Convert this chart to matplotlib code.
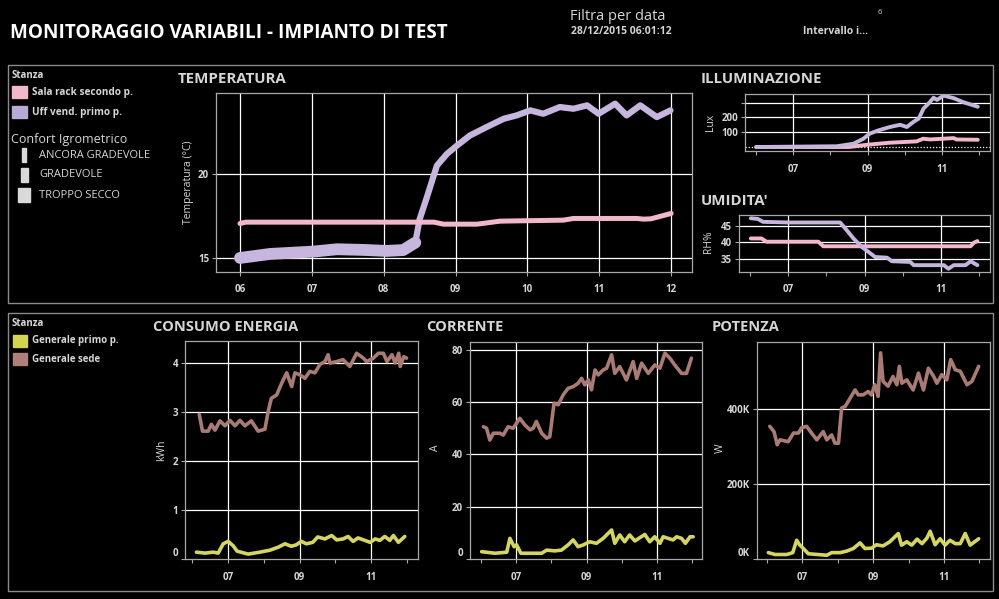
import numpy as np
import matplotlib.pyplot as plt
from matplotlib.patches import Rectangle
from matplotlib.ticker import FixedLocator, FuncFormatter

plt.rcParams['font.family'] = ['Open Sans', 'DejaVu Sans']

# ---- data (hours of the day) ----
temp_uff_h = [6.0, 6.42, 7.02, 7.35, 7.72, 8.04, 8.27, 8.44, 8.5, 8.6, 8.74, 8.88, 9.02, 9.2, 9.43,
              9.67, 9.85, 10.04, 10.22, 10.45, 10.64, 10.83, 10.99, 11.22, 11.38, 11.57, 11.8, 11.99]
temp_uff = [14.98, 15.22, 15.36, 15.5, 15.46, 15.4, 15.45, 15.9, 17.3, 18.6, 20.5, 21.2, 21.7, 22.3, 22.8,
            23.3, 23.5, 23.8, 23.6, 24.0, 23.9, 24.1, 23.6, 24.2, 23.5, 24.1, 23.4, 23.8]
temp_sala_h = [6.0, 6.08, 8.7, 8.83, 9.3, 9.62, 10.5, 10.64, 11.52, 11.62, 11.72, 12.0]
temp_sala = [17.04, 17.12, 17.12, 17.0, 17.0, 17.18, 17.24, 17.34, 17.34, 17.3, 17.32, 17.64]

lux_uff_h = [6.0, 8.17, 8.62, 8.89, 9.06, 9.29, 9.6, 9.88, 10.06, 10.24, 10.38, 10.51, 10.65,
             10.78, 10.87, 11.05, 11.32, 11.59, 11.97]
lux_uff = [0, 5, 22, 56, 90, 112, 135, 150, 135, 170, 192, 260, 295, 333, 318, 347, 330, 302, 272]
lux_sala_h = [6.0, 8.5, 8.98, 9.6, 10.32, 10.5, 10.69, 11.32, 11.4, 11.97]
lux_sala = [0, 0, 15, 29, 38, 56, 51, 60, 51, 49]

rh_uff_h = [6.02, 6.2, 6.34, 7.04, 8.36, 8.53, 8.71, 8.93, 9.1, 9.28, 9.59, 9.72, 10.2, 10.29,
            11.08, 11.2, 11.34, 11.65, 11.78, 11.96]
rh_uff = [47.4, 47.2, 46.3, 46.1, 46.1, 43.8, 41.2, 38.6, 37.1, 35.5, 35.3, 34.2, 34.0, 33.0,
          33.0, 31.9, 33.0, 33.0, 34.2, 33.0]
rh_sala_h = [6.02, 6.3, 6.43, 7.79, 7.92, 11.78, 11.87, 11.96]
rh_sala = [41.2, 41.2, 40.2, 40.2, 38.8, 38.8, 39.9, 40.4]

kwh_sede_h = [6.19, 6.28, 6.44, 6.53, 6.63, 6.77, 6.91, 7.05, 7.19, 7.33, 7.47, 7.65, 7.84, 8.03,
              8.12, 8.21, 8.36, 8.5, 8.64, 8.78, 8.87, 9.01, 9.15, 9.29, 9.43, 9.57, 9.71, 9.8,
              9.85, 10.04, 10.22, 10.41, 10.6, 10.79, 10.88, 11.07, 11.21, 11.35, 11.45, 11.59,
              11.68, 11.78, 11.82, 11.92, 12.0]
kwh_sede = [2.95, 2.61, 2.61, 2.75, 2.63, 2.82, 2.72, 2.83, 2.72, 2.83, 2.72, 2.82, 2.61, 2.65,
            3.01, 3.28, 3.35, 3.59, 3.80, 3.52, 3.80, 3.76, 3.69, 3.83, 3.80, 3.97, 4.03, 4.17,
            4.0, 4.03, 4.07, 3.93, 4.2, 4.1, 4.03, 4.1, 4.2, 4.2, 4.03, 4.17,
            4.0, 4.2, 3.93, 4.13, 4.1]
kwh_primo_h = [6.11, 6.35, 6.58, 6.72, 6.86, 7.0, 7.14, 7.25, 7.56, 7.89, 8.17, 8.4, 8.59, 8.77,
               8.91, 9.05, 9.19, 9.37, 9.51, 9.71, 9.9, 10.04, 10.22, 10.36, 10.5, 10.64, 10.83,
               10.98, 11.12, 11.25, 11.39, 11.53, 11.63, 11.77, 11.95]
kwh_primo = [0.14, 0.12, 0.14, 0.12, 0.31, 0.36, 0.27, 0.16, 0.10, 0.14, 0.18, 0.24, 0.31, 0.26,
             0.29, 0.36, 0.31, 0.34, 0.45, 0.41, 0.48, 0.39, 0.41, 0.46, 0.36, 0.43, 0.38,
             0.34, 0.41, 0.38, 0.46, 0.38, 0.48, 0.34, 0.46]

amp_sede_h = [6.08, 6.17, 6.26, 6.36, 6.55, 6.64, 6.78, 6.92, 7.11, 7.25, 7.4, 7.49, 7.58, 7.73,
              7.87, 7.96, 8.08, 8.2, 8.34, 8.48, 8.62, 8.76, 8.86, 8.95, 9.05, 9.14, 9.24, 9.33,
              9.47, 9.57, 9.71, 9.8, 9.94, 10.13, 10.32, 10.42, 10.56, 10.75, 10.93, 11.08,
              11.22, 11.36, 11.5, 11.69, 11.83, 11.97]
amp_sede = [50.6, 50.0, 45.5, 48.1, 48.1, 47.4, 50.6, 50.0, 53.8, 51.3, 49.4, 50.0, 52.6, 48.1,
            46.2, 46.8, 59.6, 59.0, 62.8, 65.3, 65.9, 67.2, 69.1, 66.6, 68.5, 64.7, 72.3, 70.4,
            72.3, 73.0, 78.1, 71.0, 73.6, 68.5, 75.5, 69.1, 74.9, 71.0, 74.2, 73.0,
            78.7, 76.8, 74.2, 71.0, 71.0, 76.8]
amp_primo_h = [6.03, 6.41, 6.74, 6.83, 6.95, 7.02, 7.14, 7.73, 7.87, 8.1, 8.29, 8.48, 8.62, 8.76,
               8.91, 9.09, 9.28, 9.47, 9.71, 9.8, 9.94, 10.08, 10.22, 10.37, 10.65, 10.79, 10.93,
               11.08, 11.17, 11.31, 11.45, 11.55, 11.69, 11.8, 11.93, 12.02]
amp_primo = [2.8, 2.2, 2.6, 7.9, 4.7, 5.4, 2.2, 2.2, 3.4, 3.1, 3.4, 5.4, 7.3, 4.7,
             5.4, 6.6, 6.0, 7.9, 11.1, 6.0, 9.2, 6.6, 9.2, 6.9, 9.4, 6.6, 8.5,
             6.0, 8.5, 7.9, 7.3, 8.5, 7.9, 6.0, 8.5, 8.5]

# potenza in kW (thousands of W)
pot_sede_h = [6.08, 6.2, 6.29, 6.37, 6.6, 6.75, 6.89, 6.98, 7.12, 7.26, 7.41, 7.59, 7.69, 7.83,
              7.92, 8.02, 8.11, 8.21, 8.35, 8.49, 8.58, 8.72, 8.86, 8.95, 9.05, 9.14, 9.21, 9.28,
              9.42, 9.56, 9.67, 9.74, 9.81, 9.95, 10.13, 10.28, 10.42, 10.56, 10.71, 10.8, 10.94,
              11.08, 11.19, 11.32, 11.46, 11.65, 11.79, 11.98]
pot_sede = [354, 340, 305, 318, 313, 336, 336, 350, 354, 336, 318, 340, 318, 331,
            309, 309, 403, 407, 429, 451, 438, 438, 447, 438, 465, 434, 550, 474,
            461, 487, 465, 514, 469, 478, 451, 496, 451, 509, 487, 469, 492,
            478, 532, 505, 501, 465, 474, 514]
pot_primo_h = [6.04, 6.23, 6.56, 6.73, 6.84, 6.93, 7.03, 7.17, 7.69, 7.83, 8.07, 8.25, 8.44, 8.63,
               8.77, 8.96, 9.09, 9.28, 9.47, 9.71, 9.8, 9.95, 10.09, 10.24, 10.38, 10.52, 10.61,
               10.75, 10.89, 11.03, 11.17, 11.32, 11.46, 11.6, 11.74, 11.98]
pot_primo = [17, 12, 12, 17, 50, 37, 28, 14, 10, 17, 17, 21, 28, 43,
             28, 29, 38, 35, 46, 68, 37, 46, 37, 53, 41, 56, 74,
             38, 54, 37, 50, 41, 41, 68, 37, 54]

stanza_top = ['Sala rack secondo p.', 'Uff vend. primo p.']
confort = ['ANCORA GRADEVOLE', 'GRADEVOLE', 'TROPPO SECCO']
stanza_bottom = ['Generale primo p.', 'Generale sede']

PINK = '#f3b7cd'
LAV = '#c6b6de'
BROWN = '#a97b75'
YELLOW = '#d5d562'
TXT = '#d6d6d6'
SPINE = '#a8a8a8'

W, H = 999, 599
fig = plt.figure(figsize=(W / 100, H / 100), dpi=100, facecolor='black')


def fx(x):
    return x / W


def fy(y):
    return 1 - y / H


def ax_px(x0, y0, x1, y1):
    return fig.add_axes([fx(x0), fy(y1), (x1 - x0) / W, (y1 - y0) / H])


def style(ax, xlim, ylim, xt, xl, yt, yl, minor=None):
    ax.set_facecolor('black')
    for s in ax.spines.values():
        s.set_color(SPINE)
        s.set_linewidth(0.9)
    ax.set_xlim(*xlim)
    ax.set_ylim(*ylim)
    ax.xaxis.set_major_locator(FixedLocator(xt))
    ax.set_xticklabels(xl)
    ax.yaxis.set_major_locator(FixedLocator(yt))
    ax.set_yticklabels(yl)
    if minor is not None:
        ax.xaxis.set_minor_locator(FixedLocator(minor))
    ax.grid(True, color='white', linewidth=0.9)
    ax.set_axisbelow(True)
    ax.tick_params(which='both', colors=SPINE, labelcolor=TXT, labelsize=7, length=3, width=0.8)
    ax.tick_params(axis='x', pad=6)
    ax.tick_params(axis='y', pad=2)
    for lab in ax.get_xticklabels() + ax.get_yticklabels():
        lab.set_fontweight('bold')


def ftext(x, y, s, **kw):
    kw.setdefault('color', TXT)
    kw.setdefault('va', 'center')
    fig.text(fx(x), fy(y), s, **kw)


# panel frames
for (x0, y0, x1, y1) in [(8, 65, 993, 303), (8, 313, 993, 591)]:
    fig.patches.append(Rectangle((fx(x0), fy(y1)), (x1 - x0) / W, (y1 - y0) / H,
                                 transform=fig.transFigure, fill=False,
                                 edgecolor='#8a8a8a', linewidth=1))

# header
ftext(10, 33, 'MONITORAGGIO VARIABILI - IMPIANTO DI TEST', color='white',
      fontsize=13.6, fontweight='bold')
ftext(570, 17, 'Filtra per data', fontsize=10.5)
ftext(571, 32, '28/12/2015 06:01:12', fontsize=7.5, fontweight='bold')
ftext(803, 32, 'Intervallo i...', fontsize=7.5, fontweight='bold')
ftext(878, 13, '6', fontsize=5.5)

# top legend
ftext(12, 75, 'Stanza', fontsize=7, fontweight='bold')
for i, (lab, col) in enumerate(zip(stanza_top, [PINK, '#b9a9d5'])):
    yc = 92 + i * 20
    fig.patches.append(Rectangle((fx(12), fy(yc + 6)), 15 / W, 12 / H,
                                 transform=fig.transFigure, color=col))
    ftext(32, yc, lab, fontsize=7.2, fontweight='bold')
ftext(11, 139, 'Confort Igrometrico', fontsize=9)
for i, (lab, bw) in enumerate(zip(confort, [4, 7, 12])):
    yc = 155 + i * 20
    fig.patches.append(Rectangle((fx(24 - bw / 2), fy(yc + 7)), bw / W, 14 / H,
                                 transform=fig.transFigure, color='#d9d9d9'))
    ftext(39, yc, lab, fontsize=8)

# bottom legend
ftext(12, 324, 'Stanza', fontsize=7, fontweight='bold')
for i, (lab, col) in enumerate(zip(stanza_bottom, ['#d4d450', '#b07f7a'])):
    yc = 341 + i * 18
    fig.patches.append(Rectangle((fx(13), fy(yc + 6)), 14 / W, 12 / H,
                                 transform=fig.transFigure, color=col))
    ftext(32, yc, lab, fontsize=7, fontweight='bold')

# ---- TEMPERATURA ----
ax = ax_px(216, 93, 692, 272)
hrs = [6, 7, 8, 9, 10, 11, 12]
style(ax, (5.666, 12.29), (14.14, 24.84), hrs, ['%02d' % h for h in hrs], [15, 20], ['15', '20'])
th = np.array(temp_uff_h)
tv = np.array(temp_uff)
early = th < 8.45
ax.plot(th[early], tv[early], color=LAV, lw=8.5, solid_capstyle='round', solid_joinstyle='round')
ax.plot(th, tv, color=LAV, lw=4.5, solid_capstyle='round', solid_joinstyle='round')
ax.plot(temp_sala_h, temp_sala, color=PINK, lw=3.6, solid_capstyle='round')
ftext(178, 79, 'TEMPERATURA', fontsize=10.8, fontweight='bold')
ftext(188, 182, 'Temperatura (°C)', fontsize=7.5, rotation=90, ha='center')

odd = [7, 9, 11]
odd_l = ['07', '09', '11']
even = [6, 8, 10, 12]

# ---- ILLUMINAZIONE ----
ax = ax_px(745, 94, 990, 151)
style(ax, (5.7, 12.3), (-27, 358), odd, odd_l, [100, 200, 300], ['100', '200', ''], minor=even)
ax.axhline(0, color='white', lw=0.9, ls=(0, (1, 1.5)))
ax.plot(lux_sala_h, lux_sala, color=PINK, lw=2.8, solid_capstyle='round')
ax.plot(lux_uff_h, lux_uff, color=LAV, lw=2.8, solid_capstyle='round')
ftext(701, 79, 'ILLUMINAZIONE', fontsize=10.8, fontweight='bold')
ftext(711, 122, 'Lux', fontsize=7.5, rotation=90, ha='center')

# ---- UMIDITA' ----
ax = ax_px(739, 215, 990, 272)
style(ax, (5.71, 12.29), (30.9, 48.4), odd, odd_l, [35, 40, 45], ['35', '40', '45'], minor=even)
ax.plot(rh_sala_h, rh_sala, color=PINK, lw=2.8, solid_capstyle='round')
ax.plot(rh_uff_h, rh_uff, color=LAV, lw=2.8, solid_capstyle='round')
ftext(701, 201, "UMIDITA'", fontsize=10.8, fontweight='bold')
ftext(709, 242, 'RH%', fontsize=7.5, rotation=90, ha='center')


def zero_up(ax):
    ax.get_yticklabels()[0].set_va('bottom')
    ax.get_ygridlines()[0].set_visible(False)


# ---- CONSUMO ENERGIA ----
ax = ax_px(185, 341, 418, 559)
style(ax, (5.79, 12.32), (0, 4.45), odd, odd_l, [0, 1, 2, 3, 4], ['0', '1', '2', '3', '4'], minor=even)
ax.plot(kwh_sede_h, kwh_sede, color=BROWN, lw=2.6, solid_capstyle='round')
ax.plot(kwh_primo_h, kwh_primo, color=YELLOW, lw=2.6, solid_capstyle='round')
zero_up(ax)
ftext(153, 327, 'CONSUMO ENERGIA', fontsize=10.5, fontweight='bold')
ftext(162, 450, 'kWh', fontsize=7.5, rotation=90, ha='center')

# ---- CORRENTE ----
ax = ax_px(470, 342, 702, 559)
style(ax, (5.7, 12.27), (0, 83), odd, odd_l, [0, 20, 40, 60, 80], ['0', '20', '40', '60', '80'], minor=even)
ax.plot(amp_sede_h, amp_sede, color=BROWN, lw=2.6, solid_capstyle='round')
ax.plot(amp_primo_h, amp_primo, color=YELLOW, lw=2.6, solid_capstyle='round')
zero_up(ax)
ftext(426, 327, 'CORRENTE', fontsize=10.5, fontweight='bold')
ftext(435, 448, 'A', fontsize=7.5, rotation=90, ha='center')

# ---- POTENZA ----
ax = ax_px(757, 342, 990, 559)
style(ax, (5.72, 12.3), (0, 579000), odd, odd_l, [0, 200000, 400000], ['', '', ''], minor=even)
ax.yaxis.set_major_formatter(FuncFormatter(lambda v, p: '%dK' % round(v / 1000)))
for lab in ax.get_yticklabels():
    lab.set_fontweight('bold')
ax.plot(pot_sede_h, np.array(pot_sede) * 1000, color=BROWN, lw=2.6, solid_capstyle='round')
ax.plot(pot_primo_h, np.array(pot_primo) * 1000, color=YELLOW, lw=2.6, solid_capstyle='round')
zero_up(ax)
ftext(712, 327, 'POTENZA', fontsize=10.5, fontweight='bold')
ftext(720, 448, 'W', fontsize=7.5, rotation=90, ha='center')

fig.savefig('out.png', dpi=100, facecolor='black')
